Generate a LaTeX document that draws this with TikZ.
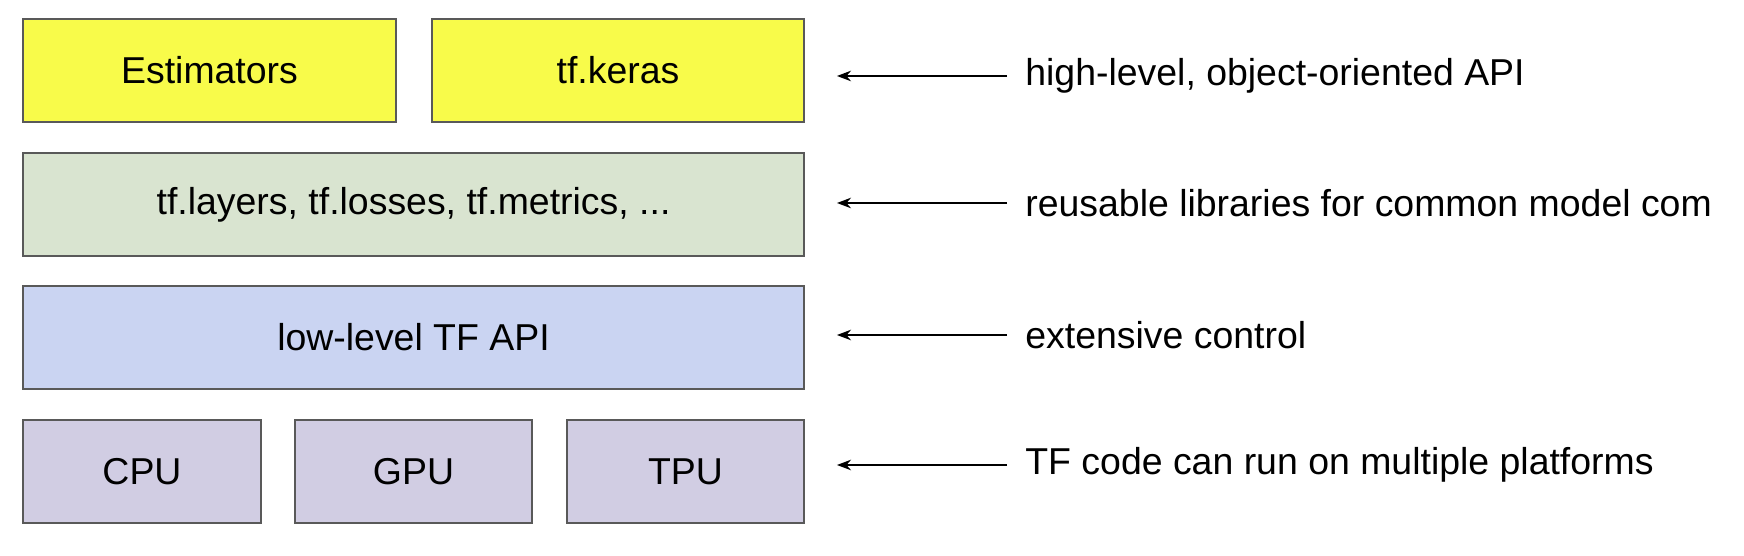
\documentclass[tikz,border=0pt]{standalone}
\usepackage{fontspec}
\setmainfont{Liberation Sans}
\usepackage{tikz}
\usetikzlibrary{positioning, arrows.meta, calc}

\definecolor{estyellow}{HTML}{F8FB4A}
\definecolor{libgreen}{HTML}{D9E4D0}
\definecolor{apiblue}{HTML}{CAD4F2}
\definecolor{hwpurple}{HTML}{D1CDE3}
\definecolor{edgegray}{HTML}{595959}

\begin{document}
\begin{tikzpicture}[
    > = {Stealth[length=8pt, width=6pt]},
    layer/.style={draw=edgegray, line width=1.1pt, minimum height=2.06cm,
        inner sep=0pt, font=\fontsize{21.3}{25}\selectfont},
    note/.style={anchor=west, inner sep=0pt, font=\fontsize{21.3}{25}\selectfont},
    pointer/.style={->, line width=0.9pt, shorten > = 0.64cm, shorten < = 0.36cm}
]
\useasboundingbox (0,0) rectangle (34.88,11.12);

% --- High-level API ---
\node[layer, fill=estyellow, minimum width=7.46cm] (est) at (4.19, 9.71) {Estimators};
\node[layer, fill=estyellow, minimum width=7.44cm] (keras) at (12.36, 9.71) {tf.keras};

% --- Libraries ---
\node[layer, fill=libgreen, minimum width=15.62cm] (libs) at (8.27, 7.03) {tf.layers, tf.losses, tf.metrics, ...};

% --- Low-level API ---
\node[layer, fill=apiblue, minimum width=15.62cm] (lowapi) at (8.27, 4.37) {low-level TF API};

% --- Platforms ---
\node[layer, fill=hwpurple, minimum width=4.76cm] (cpu) at (2.84, 1.69) {CPU};
\node[layer, fill=hwpurple, minimum width=4.74cm] (gpu) at (8.27, 1.69) {GPU};
\node[layer, fill=hwpurple, minimum width=4.74cm] (tpu) at (13.71, 1.69) {TPU};

% --- Notes on the right ---
\node[note] (nhigh) at (20.5, 9.60) {high-level, object-oriented API};
\node[note] (nlibs) at (20.5, 7.06) {reusable libraries for common model com};
\node[note] (nlow) at (20.5, 4.42) {extensive control};
\node[note] (nhw) at (20.5, 1.82) {TF code can run on multiple platforms};

\draw[pointer] (nhigh.west) -- (nhigh.west -| keras.east);
\draw[pointer] (nlibs.west) -- (nlibs.west -| libs.east);
\draw[pointer] (nlow.west) -- (nlow.west -| lowapi.east);
\draw[pointer] (nhw.west) -- (nhw.west -| tpu.east);

\end{tikzpicture}
\end{document}
